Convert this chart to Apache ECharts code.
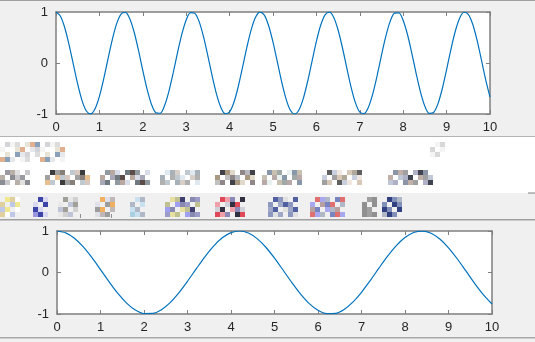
<!DOCTYPE html>
<html><head><meta charset="utf-8">
<script src="https://cdn.jsdelivr.net/npm/echarts@6/dist/echarts.min.js"></script>
<style>html,body{margin:0;padding:0;background:#f0f0f0;}#c{width:535px;height:342px;}</style>
</head><body><div id="c"></div>
<script>
// Top subplot samples (x step 0.1)
var xTop = [0,0.1,0.2,0.3,0.4,0.5,0.6,0.7,0.8,0.9,1,1.1,1.2,1.3,1.4,1.5,1.6,1.7,1.8,1.9,2,2.1,2.2,2.3,2.4,2.5,2.6,2.7,2.8,2.9,3,3.1,3.2,3.3,3.4,3.5,3.6,3.7,3.8,3.9,4,4.1,4.2,4.3,4.4,4.5,4.6,4.7,4.8,4.9,5,5.1,5.2,5.3,5.4,5.5,5.6,5.7,5.8,5.9,6,6.1,6.2,6.3,6.4,6.5,6.6,6.7,6.8,6.9,7,7.1,7.2,7.3,7.4,7.5,7.6,7.7,7.8,7.9,8,8.1,8.2,8.3,8.4,8.5,8.6,8.7,8.8,8.9,9,9.1,9.2,9.3,9.4,9.5,9.6,9.7,9.8,9.9,10];
var yTop = [1,0.921,0.697,0.362,-0.029,-0.416,-0.737,-0.942,-0.998,-0.897,-0.654,-0.307,0.087,0.469,0.776,0.960,0.993,0.869,0.608,0.251,-0.146,-0.519,-0.811,-0.975,-0.985,-0.839,-0.561,-0.195,0.203,0.568,0.844,0.986,0.973,0.806,0.512,0.137,-0.260,-0.615,-0.873,-0.994,-0.958,-0.770,-0.461,-0.078,0.316,0.660,0.901,0.999,0.939,0.731,0.408,0.020,-0.370,-0.702,-0.925,-1.000,-0.918,-0.690,-0.354,0.038,0.424,0.744,0.945,0.998,0.893,0.647,0.299,-0.096,-0.477,-0.781,-0.963,-0.992,-0.865,-0.602,-0.243,0.154,0.526,0.816,0.977,0.983,0.834,0.554,0.186,-0.212,-0.576,-0.849,-0.988,-0.971,-0.801,-0.505,-0.128,0.268,0.622,0.878,0.995,0.955,0.764,0.453,0.070,-0.324,-0.667];
// Bottom subplot samples (x step 0.2)
var xBot = [0,0.2,0.4,0.6,0.8,1,1.2,1.4,1.6,1.8,2,2.2,2.4,2.6,2.8,3,3.2,3.4,3.6,3.8,4,4.2,4.4,4.6,4.8,5,5.2,5.4,5.6,5.8,6,6.2,6.4,6.6,6.8,7,7.2,7.4,7.6,7.8,8,8.2,8.4,8.6,8.8,9,9.2,9.4,9.6,9.8,10];
var yBot = [1,0.955,0.825,0.622,0.362,0.071,-0.227,-0.505,-0.737,-0.904,-0.990,-0.987,-0.897,-0.726,-0.490,-0.211,0.087,0.378,0.635,0.835,0.960,1.000,0.950,0.816,0.608,0.347,0.054,-0.244,-0.519,-0.749,-0.911,-0.992,-0.985,-0.889,-0.714,-0.476,-0.195,0.104,0.393,0.648,0.844,0.965,0.999,0.945,0.806,0.594,0.331,0.037,-0.260,-0.533,-0.760];
var xTicks = [0,1,2,3,4,5,6,7,8,9,10];
var yTicks = [-1,0,1];

function pairs(xs, ys){ return xs.map(function(x,i){ return [x, ys[i]]; }); }

var boxColor = '#7f7f7f';
var labelStyle = {color:'#262626', fontSize:13, fontFamily:'Liberation Sans, Arial, sans-serif'};
function xAx(grid, pos, labels){
  return {type:'value', gridIndex:grid, position:pos, min:xTicks[0], max:xTicks[xTicks.length-1], interval:1,
    axisLine:{show:true, onZero:false, lineStyle:{color:boxColor, width:1.5}},
    axisTick:{show:true, inside:true, length:4, lineStyle:{color:boxColor, width:1}},
    axisLabel:labels?Object.assign({show:true, margin:7}, labelStyle):{show:false},
    splitLine:{show:false}};
}
function yAx(grid, pos, labels){
  return {type:'value', gridIndex:grid, position:pos, min:yTicks[0], max:yTicks[yTicks.length-1], interval:1,
    axisLine:{show:true, onZero:false, lineStyle:{color:boxColor, width:1.5}},
    axisTick:{show:true, inside:true, length:4, lineStyle:{color:boxColor, width:1}},
    axisLabel:labels?Object.assign({show:true, margin:8}, labelStyle):{show:false},
    splitLine:{show:false}};
}

// decorative pixelated band (toolbar remnants)
var clusters = [
  [0,142,13,4,['#e6e8ec','#d4d4d8','#f4f4f4','#dcdcdc','#ffffff','#e8e4d8','#e0b090','#8aa0b8']],
  [430,142,3,3,['#e0e0e0','#f4f4f4','#d8d8d8']],
  [0,170,6,3,['#c8c8cc','#9a9aa0','#b8b0a8','#e0e0e0','#8c8c94']],
  [45,170,9,3,['#d8c8c0','#3c3c3c','#a0a0a0','#888078','#e8c090','#c0c8d0']],
  [100,170,10,3,['#5c4c48','#9098a0','#b8a8a0','#d8dce8','#a8a8b8','#707880']],
  [160,170,8,3,['#c0c8d0','#e0e8f0','#a8b0b8','#d8d0c8','#b0b0b0']],
  [215,170,8,3,['#b8b8c0','#404048','#a89880','#e0d8c8','#c0c0c0','#908888']],
  [262,170,8,3,['#e8f0f0','#8898a8','#c8c0b0','#a0a8a8','#b8a8a8']],
  [322,170,8,3,['#b0a898','#606060','#c8d0e0','#f0e8e0','#a0a0a0','#d8c8b8']],
  [388,170,9,3,['#404450','#8c94a8','#c0b0a8','#a0a0a0','#c0c8d8','#b0b0c8']],
  [0,197,4,4,['#c0c8e8','#f0e890','#e0d0a0','#ffffff']],
  [33,197,3,4,['#9a96e0','#3c44a8','#d8d8f0']],
  [58,197,4,4,['#c0c4d8','#a0a098','#e8e8e8','#d0d0d0']],
  [95,197,4,4,['#9c9c9c','#f0b060','#e0e0e8','#c0b8b8']],
  [130,197,3,4,['#a8d0e0','#c8e0f0','#b0b8c8']],
  [165,197,7,4,['#9c9cc8','#e8e0a0','#c0c090','#404070','#a0a0f0','#8888b0']],
  [215,197,6,4,['#303040','#e04858','#f0a0a8','#8c88b8','#d0d0d8']],
  [268,197,6,4,['#a0a8c8','#5060a0','#8c98c0','#e0e0e0']],
  [310,197,7,4,['#7884c0','#e07070','#a8a8f0','#b0b8c8','#b8a0a0']],
  [362,197,3,4,['#909090','#a0a0a0']],
  [382,197,4,4,['#b0b8c8','#304080','#8090b8']]
];
var graphics = [
  {type:'rect', shape:{x:0,y:0,width:535,height:1}, style:{fill:'#a0a0a0'}, silent:true, z:-10},
  {type:'rect', shape:{x:0,y:136,width:535,height:1}, style:{fill:'#b4b4b4'}, silent:true, z:-10},
  {type:'rect', shape:{x:0,y:137,width:535,height:56}, style:{fill:'#ffffff'}, silent:true, z:-10},
  {type:'rect', shape:{x:0,y:219,width:535,height:1.5}, style:{fill:'#a0a0a0'}, silent:true, z:-10},
  {type:'rect', shape:{x:0,y:337,width:535,height:1.5}, style:{fill:'#a8a8a8'}, silent:true, z:-10},
  {type:'rect', shape:{x:528,y:192.5,width:7,height:1}, style:{fill:'#808080'}, silent:true, z:-10},
  {type:'rect', shape:{x:80,y:214,width:1,height:4}, style:{fill:'#909090'}, silent:true, z:-10},
  {type:'rect', shape:{x:111,y:214,width:1,height:4}, style:{fill:'#909090'}, silent:true, z:-10}
];
clusters.forEach(function(c){
  for (var j=0;j<c[3];j++) for (var i=0;i<c[2];i++){
    if ((i*3+j*5)%4===0) continue;
    graphics.push({type:'rect', shape:{x:c[0]+i*5, y:c[1]+j*5, width:5, height:5},
      style:{fill:c[4][(i+2*j)%c[4].length]}, silent:true, z:-9});
  }
});

var chart = echarts.init(document.getElementById('c'), null, {renderer:'canvas'});
chart.setOption({
  animation:false,
  backgroundColor:'#f0f0f0',
  graphic:graphics,
  grid:[
    {left:56, right:45, top:12, height:102, backgroundColor:'#ffffff', show:true, borderWidth:0},
    {left:57, right:43, top:231, height:83, backgroundColor:'#ffffff', show:true, borderWidth:0}
  ],
  xAxis:[xAx(0,'bottom',true), xAx(0,'top',false), xAx(1,'bottom',true), xAx(1,'top',false)],
  yAxis:[yAx(0,'left',true), yAx(0,'right',false), yAx(1,'left',true), yAx(1,'right',false)],
  series:[
    {type:'line', xAxisIndex:0, yAxisIndex:0, data:pairs(xTop,yTop), smooth:0.3, showSymbol:false,
      lineStyle:{color:'#0072bd', width:1.2}, z:5},
    {type:'line', xAxisIndex:2, yAxisIndex:2, data:pairs(xBot,yBot), smooth:0.3, showSymbol:false,
      lineStyle:{color:'#0072bd', width:1.2}, z:5}
  ]
});
</script></body></html>
